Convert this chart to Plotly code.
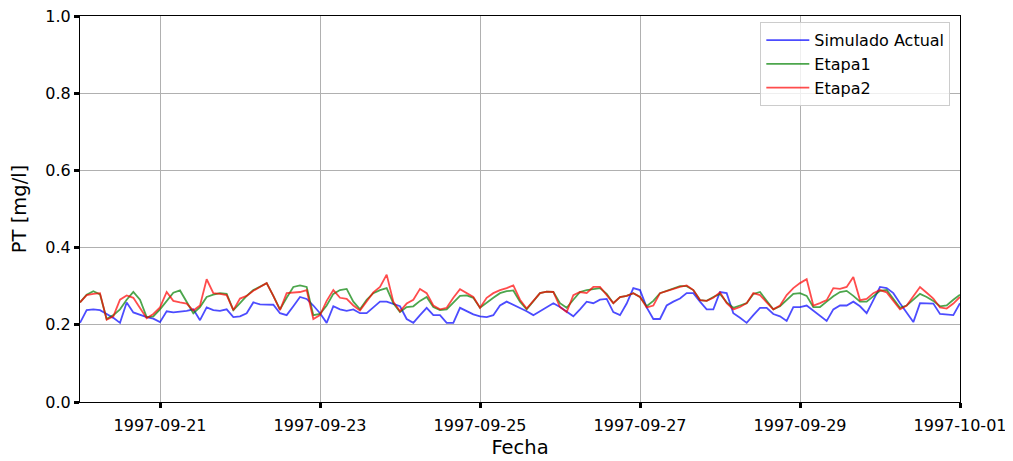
import pandas as pd
import plotly.graph_objects as go

# 2-hourly time steps from 1997-09-20 00:00 to 1997-10-01 00:00
fechas = pd.date_range("1997-09-20 00:00", "1997-10-01 00:00", freq="2h")

simulado_actual = [
    0.205, 0.238, 0.240, 0.238, 0.228, 0.218, 0.205, 0.258, 0.232, 0.225, 0.220, 0.216,
    0.207, 0.235, 0.232, 0.234, 0.236, 0.240, 0.212, 0.245, 0.238, 0.236, 0.240, 0.220,
    0.222, 0.230, 0.258, 0.253, 0.253, 0.252, 0.230, 0.225, 0.248, 0.272, 0.267, 0.250,
    0.230, 0.205, 0.248, 0.240, 0.236, 0.240, 0.230, 0.230, 0.245, 0.260, 0.260, 0.255,
    0.248, 0.215, 0.205, 0.225, 0.244, 0.225, 0.225, 0.205, 0.205, 0.244, 0.235, 0.227,
    0.222, 0.220, 0.225, 0.250, 0.260, 0.252, 0.244, 0.235, 0.225, 0.235, 0.245, 0.256,
    0.246, 0.233, 0.222, 0.240, 0.260, 0.256, 0.265, 0.267, 0.233, 0.225, 0.255, 0.295,
    0.290, 0.245, 0.215, 0.215, 0.250, 0.260, 0.268, 0.282, 0.282, 0.260, 0.240, 0.240,
    0.285, 0.282, 0.230, 0.218, 0.205, 0.225, 0.244, 0.244, 0.228, 0.222, 0.210, 0.246,
    0.246, 0.250, 0.237, 0.225, 0.210, 0.240, 0.250, 0.250, 0.260, 0.248, 0.230, 0.264,
    0.298, 0.295, 0.282, 0.256, 0.230, 0.207, 0.256, 0.256, 0.255, 0.228, 0.226, 0.225,
    0.256,
]

etapa1 = [
    0.258, 0.278, 0.287, 0.279, 0.215, 0.225, 0.240, 0.265, 0.285, 0.265, 0.220, 0.222,
    0.240, 0.262, 0.283, 0.289, 0.260, 0.230, 0.246, 0.272, 0.278, 0.282, 0.280, 0.238,
    0.256, 0.275, 0.290, 0.300, 0.308, 0.275, 0.240, 0.270, 0.298, 0.302, 0.298, 0.225,
    0.228, 0.250, 0.280, 0.290, 0.293, 0.260, 0.240, 0.265, 0.282, 0.290, 0.295, 0.256,
    0.233, 0.246, 0.248, 0.262, 0.272, 0.246, 0.238, 0.240, 0.258, 0.275, 0.276, 0.270,
    0.244, 0.258, 0.270, 0.282, 0.287, 0.289, 0.260, 0.240, 0.262, 0.282, 0.286, 0.285,
    0.256, 0.244, 0.265, 0.285, 0.290, 0.293, 0.295, 0.280, 0.256, 0.272, 0.275, 0.282,
    0.272, 0.248, 0.262, 0.282, 0.288, 0.296, 0.300, 0.300, 0.290, 0.264, 0.262, 0.272,
    0.280, 0.258, 0.244, 0.250, 0.256, 0.280, 0.285, 0.262, 0.240, 0.248, 0.264, 0.280,
    0.282, 0.275, 0.246, 0.246, 0.260, 0.274, 0.285, 0.288, 0.275, 0.260, 0.260, 0.275,
    0.288, 0.290, 0.268, 0.244, 0.250, 0.265, 0.280, 0.272, 0.262, 0.248, 0.250, 0.265,
    0.278,
]

etapa2 = [
    0.258, 0.277, 0.280, 0.282, 0.213, 0.222, 0.265, 0.276, 0.270, 0.245, 0.217, 0.228,
    0.245, 0.285, 0.262, 0.258, 0.255, 0.237, 0.250, 0.318, 0.282, 0.280, 0.277, 0.238,
    0.268, 0.275, 0.288, 0.298, 0.308, 0.275, 0.238, 0.282, 0.284, 0.285, 0.290, 0.215,
    0.225, 0.262, 0.290, 0.270, 0.267, 0.250, 0.237, 0.262, 0.284, 0.298, 0.330, 0.260,
    0.235, 0.255, 0.265, 0.293, 0.282, 0.250, 0.240, 0.244, 0.270, 0.292, 0.282, 0.272,
    0.244, 0.270, 0.282, 0.290, 0.295, 0.302, 0.265, 0.242, 0.262, 0.282, 0.286, 0.285,
    0.246, 0.233, 0.277, 0.285, 0.282, 0.298, 0.298, 0.278, 0.256, 0.272, 0.275, 0.282,
    0.272, 0.245, 0.250, 0.282, 0.288, 0.293, 0.298, 0.302, 0.290, 0.264, 0.262, 0.270,
    0.284, 0.256, 0.240, 0.246, 0.256, 0.282, 0.277, 0.258, 0.240, 0.250, 0.277, 0.295,
    0.308, 0.318, 0.250, 0.256, 0.264, 0.295, 0.293, 0.298, 0.324, 0.264, 0.267, 0.282,
    0.290, 0.284, 0.262, 0.240, 0.250, 0.275, 0.298, 0.283, 0.268, 0.245, 0.242, 0.255,
    0.272,
]

x_ticks = ["1997-09-21", "1997-09-23", "1997-09-25", "1997-09-27", "1997-09-29", "1997-10-01"]
y_ticks = [0.0, 0.2, 0.4, 0.6, 0.8, 1.0]

series = [
    ("Simulado Actual", simulado_actual, "rgba(0,0,255,0.7)"),
    ("Etapa1", etapa1, "rgba(0,128,0,0.7)"),
    ("Etapa2", etapa2, "rgba(255,0,0,0.7)"),
]

fig = go.Figure()
for name, vals, color in series:
    fig.add_trace(go.Scatter(x=fechas, y=vals, mode="lines", name=name,
                             line=dict(color=color, width=1.8)))

font_family = "DejaVu Sans"
fig.update_layout(
    width=1005, height=453,
    margin=dict(l=72, r=53, t=8, b=59, autoexpand=False),
    paper_bgcolor="white", plot_bgcolor="white",
    font=dict(family=font_family, size=16, color="black"),
    showlegend=True,
    legend=dict(x=0.989, y=0.984, xanchor="right", yanchor="top",
                bgcolor="rgba(255,255,255,0.8)", bordercolor="#cccccc", borderwidth=1,
                font=dict(family=font_family, size=16), tracegroupgap=0,
                itemwidth=43),
)
fig.update_xaxes(
    range=["1997-09-20", "1997-10-01"],
    tickvals=x_ticks, ticktext=x_ticks, automargin=False,
    showgrid=True, gridcolor="#b0b0b0", gridwidth=1,
    showline=True, linecolor="black", linewidth=1.2, mirror=True,
    ticks="outside", ticklen=5, tickwidth=3, tickcolor="black",
    tickfont=dict(size=16), ticklabelstandoff=4, ticklabeloverflow="allow",
    title=dict(text="Fecha", font=dict(size=19.5), standoff=6),
    zeroline=False,
)
fig.update_yaxes(
    range=[0, 1], tickvals=y_ticks, tickformat=".1f", automargin=False,
    showgrid=True, gridcolor="#b0b0b0", gridwidth=1,
    showline=True, linecolor="black", linewidth=1.2, mirror=True,
    ticks="outside", ticklen=5, tickwidth=3, tickcolor="black",
    tickfont=dict(size=16), ticklabeloverflow="allow",
    title=dict(text="PT [mg/l]", font=dict(size=19.5), standoff=13),
    zeroline=False,
)

fig.write_html("out.html")
